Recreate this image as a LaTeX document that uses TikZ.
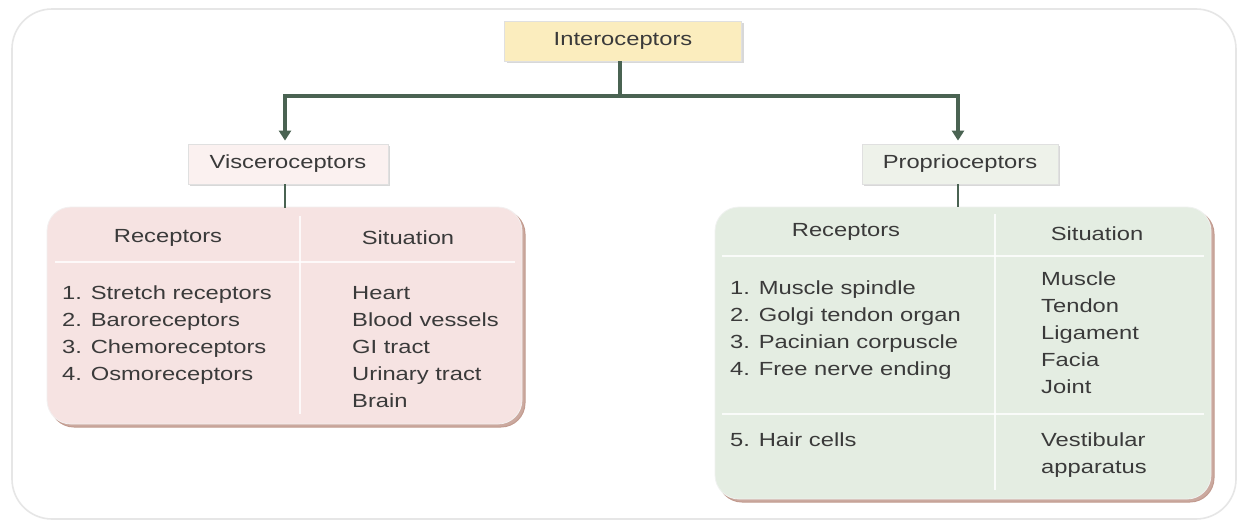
\documentclass[tikz,border=0pt]{standalone}
\usepackage{fontspec}
\setmainfont[FakeStretch=1.25]{Liberation Sans}
\usetikzlibrary{arrows.meta,shadows}
\definecolor{txt}{HTML}{3A3A3A}
\definecolor{conn}{HTML}{4A6352}
\definecolor{yel}{HTML}{FBEDBE}
\definecolor{pinkbox}{HTML}{FBF1F0}
\definecolor{greenbox}{HTML}{EEF2EA}
\definecolor{pinkfill}{HTML}{F6E3E2}
\definecolor{greenfill}{HTML}{E4EDE2}
\definecolor{brownedge}{HTML}{A8705F}
\definecolor{frame}{HTML}{E6E6E6}
\tikzset{
  x=1pt, y=-1pt,
  every node/.style={text=txt, font=\fontsize{19}{27}\selectfont, inner sep=0pt},
  titlebox/.style={minimum height=40pt, draw=black!12, line width=0.8pt,
     drop shadow={shadow xshift=2pt, shadow yshift=-2pt, fill=black!25, opacity=0.6}},
  conline/.style={draw=conn, line width=3.2pt},
  arr/.style={conline, -{Triangle[width=12pt,length=10pt]}, shorten >=3pt},
  cell/.style={font=\fontsize{19}{27}\selectfont},
  sep/.style={draw=white, line width=1.6pt, opacity=0.8},
}
\begin{document}
\begin{tikzpicture}
\useasboundingbox (0,0) rectangle (1243,525);
\fill[white] (0,0) rectangle (1243,525);
% outer frame
\draw[frame, line width=1.6pt, rounded corners=40pt] (12,9) rectangle (1236,519);

% top node
\node[titlebox, fill=yel, minimum width=237pt] (intero) at (623,41) {Interoceptors};
\node[titlebox, fill=pinkbox, minimum width=200pt] (viscero) at (288,164) {Visceroceptors};
\node[titlebox, fill=greenbox, minimum width=196pt] (proprio) at (960,164) {Proprioceptors};

% connectors
\coordinate (junc) at (620,96);
\draw[conline] (intero.south -| junc) -- (junc);
\draw[arr] (junc) -| (viscero.north -| 285,0);
\draw[arr] (junc) -| (proprio.north -| 958,0);

% left table
\draw[brownedge!70, line width=1pt, rounded corners=24pt, fill=brownedge!60] (50,210) rectangle (525,427);
\draw[pinkfill!80!black!20, line width=0.8pt, rounded corners=24pt, fill=pinkfill] (47,207) rectangle (522,424);
\node[inner sep=0pt, minimum size=0pt] (ltab) at (285,208) {};
\draw[conline, line width=2pt] (viscero.south -| 285,0) -- (ltab.center);
\draw[sep] (300,216) -- (300,414);
\draw[sep] (55,262) -- (515,262);
\node (lrh) at (168,238) {Receptors};
\node (lsh) at (408,238) {Situation};
\node[cell, anchor=north west, align=left] (lrl) at (62,286) {1. Stretch receptors\\2. Baroreceptors\\3. Chemoreceptors\\4. Osmoreceptors};
\node[cell, anchor=north west, align=left] (lsl) at (352,286) {Heart\\Blood vessels\\GI tract\\Urinary tract\\Brain};

% right table
\draw[brownedge!70, line width=1pt, rounded corners=24pt, fill=brownedge!60] (718,210) rectangle (1214,502);
\draw[greenfill!80!black!20, line width=0.8pt, rounded corners=24pt, fill=greenfill] (715,207) rectangle (1211,499);
\node[inner sep=0pt, minimum size=0pt] (rtab) at (958,207) {};
\draw[conline, line width=2pt] (proprio.south -| 958,0) -- (rtab.center);
\draw[sep] (995,214) -- (995,490);
\draw[sep] (722,256) -- (1204,256);
\draw[sep] (722,414) -- (1204,414);
\node (rrh) at (846,232) {Receptors};
\node (rsh) at (1097,234) {Situation};
\node[cell, anchor=north west, align=left] (rrl) at (730,281) {1. Muscle spindle\\2. Golgi tendon organ\\3. Pacinian corpuscle\\4. Free nerve ending};
\node[cell, anchor=north west, align=left] (rsl) at (1041,272) {Muscle\\Tendon\\Ligament\\Facia\\Joint};
\node[cell, anchor=north west, align=left] (rhc) at (730,433) {5. Hair cells};
\node[cell, anchor=north west, align=left] (rva) at (1041,433) {Vestibular\\apparatus};
\end{tikzpicture}
\end{document}
